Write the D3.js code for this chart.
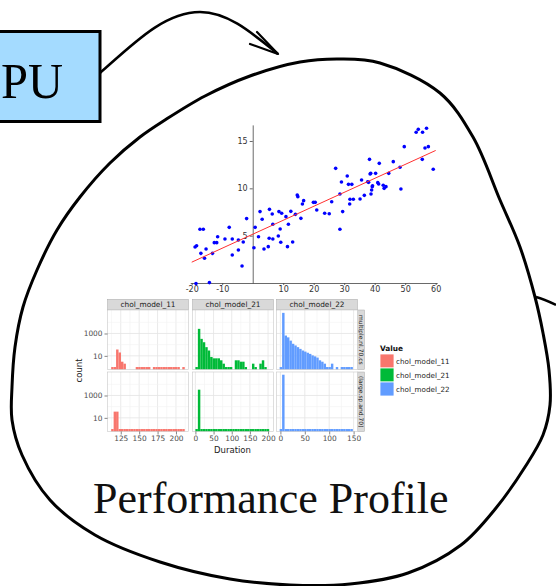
<!DOCTYPE html>
<html>
<head>
<meta charset="utf-8">
<script src="https://cdn.jsdelivr.net/npm/d3@7"></script>
<style>
  body { margin: 0; background: #fff; }
  svg { display: block; }
</style>
</head>
<body>
<svg id="fig" width="556" height="586"></svg>
<script>
// scatter
const scatterX = [-18.9, -18.4, -17.0, -17.3, -16.2, -15.8, -15.3, -13.2, -12.6, -11.8, -11.5, -9.1, -7.7, -6.7, -6.7,
  -4.7, -4.7, -3.5, -3.1, -2.0, 0.4, 0.8, 1.9, 2.4, 3.1, 3.7, 5.1, 5.4, 5.5, 6.4, 6.6, 6.6, 8.4, 8.6, 9.0, 9.2, 9.5,
  10.9, 11.4, 11.7, 12.5, 13.1, 14.0, 14.6, 14.8, 15.8, 16.3, 16.7, 19.9, 20.5, 21.0, 23.6, 25.1, 25.9, 27.2, 28.6,
  28.6, 29.1, 29.5, 31.0, 31.4, 31.8, 31.9, 32.5, 33.0, 35.2, 35.7, 36.6, 37.7, 38.0, 38.3, 38.5, 38.7, 38.8, 39.0,
  39.2, 39.3, 40.3, 41.0, 41.3, 41.5, 42.8, 43.1, 43.7, 44.6, 46.1, 48.3, 48.6, 49.7, 53.6, 54.3, 55.6, 55.7, 56.5,
  57.0, 57.6, 59.2, -18.6, -14.2];
const scatterY = [3.80, 3.94, 3.13, 5.67, 5.67, 2.61, 3.59, 3.13, 4.26, 4.26, 4.89, 4.65, 5.88, 4.65, 2.96,
  4.54, 3.49, 1.80, 4.33, 6.80, 3.73, 5.88, 4.89, 7.54, 6.73, 3.59, 3.84, 4.72, 7.78, 7.29, 4.65, 6.20, 4.96, 7.54, 5.70, 4.30, 7.36,
  7.01, 3.84, 6.20, 7.57, 4.33, 7.25, 9.30, 9.12, 6.83, 8.35, 8.70, 8.52, 8.52, 7.71, 7.36, 7.32, 8.59, 12.11, 5.67,
  9.40, 10.67, 7.54, 11.30, 10.42, 8.35, 8.84, 10.42, 8.84, 8.87, 10.88, 9.26, 10.70, 10.63, 13.06, 11.51, 11.58, 9.40, 9.82,
  10.18, 10.28, 11.58, 10.60, 10.46, 12.64, 10.32, 10.00, 10.18, 11.58, 12.82, 12.22, 9.93, 14.40, 15.92, 16.23, 13.06, 15.92, 14.26,
  16.34, 14.40, 12.01, -0.05, 0.04];
const fitX = [-20, 60];
const fitY = [2.2, 14.0];
const scatterXTicks = [-20, -10, 10, 20, 30, 40, 50, 60];
const scatterYTicks = [5, 10, 15];

// faceted histograms
const models = ["chol_model_11", "chol_model_21", "chol_model_22"];
const rowLabels = ["multiple.nl.70.cs", "(large.sp.and.70)"];
const modelColors = ["#F8766D", "#00BA38", "#619CFF"];
const binStart = [112, 0, -1.5];
const binWidth = [3.33, 6.77, 5];
const counts11Top = [1, 1, 37, 20, 3, 2, 0, 0, 0, 0, 1, 1, 1, 1, 1, 1, 0, 1, 1, 1, 1, 1, 1, 1, 1, 1, 1, 1, 0, 1];
const counts11Bot = [1, 36, 36, 1, 1, 1, 1, 1, 1, 1, 1, 1, 1, 1, 1, 1, 1, 1, 1, 1, 1, 1, 1, 1, 1, 1, 1, 1, 1, 1];
const counts21Top = [1, 2600, 330, 165, 60, 30, 8, 6, 6, 6, 4, 2, 1, 1, 1, 0, 4, 4, 3, 3, 1, 0, 0, 2, 1, 0, 2, 4, 1, 0];
const counts21Bot = [1, 3300, 1, 1, 1, 1, 1, 1, 1, 1, 1, 1, 1, 1, 1, 1, 1, 1, 1, 1, 1, 1, 1, 1, 1, 1, 1, 1, 1, 1];
const counts22Top = [1, 70000, 650, 450, 230, 120, 85, 60, 42, 30, 24, 19, 15, 11, 9, 7, 4, 3, 2, 1, 1, 2, 0, 1, 0, 1, 1, 1, 1, 1];
const counts22Bot = [1, 72000, 1, 1, 1, 1, 1, 1, 1, 1, 1, 1, 1, 1, 1, 1, 1, 1, 1, 1, 1, 1, 1, 1, 1, 1, 1, 1, 1, 1];
const histCounts = [[counts11Top, counts11Bot], [counts21Top, counts21Bot], [counts22Top, counts22Bot]];
const xDomains = [[107, 217], [-8, 215], [-8, 158]];
const xTicks = [[125, 150, 175, 200], [0, 50, 100, 150, 200], [0, 50, 100, 150]];
const yTicks = [10, 1000];
const yGrid = [10, 100, 1000, 10000];

const svg = d3.select("#fig");
const sans = "DejaVu Sans, sans-serif";
const plainNum = d => String(d); // hyphen minus, like the source

// ---- diagram outline ----
const blobPts = [[250, 76], [300, 62], [340, 59], [380, 63], [440, 93], [473, 137], [500, 200], [520, 247],
  [535, 297], [543, 333], [549, 370], [550, 405], [543, 435], [525, 467], [496, 508], [461, 545], [408, 573],
  [350, 584], [290, 585], [230, 579], [160, 562], [95, 535], [50, 500], [22, 455], [12, 420], [12, 387],
  [15, 347], [23, 307], [37, 270], [57, 230], [80, 197], [110, 163], [140, 137], [165, 120], [205, 96]];

svg.append("path")
  .attr("d", d3.line().curve(d3.curveCatmullRomClosed.alpha(0.5))(blobPts))
  .attr("fill", "none").attr("stroke", "#000").attr("stroke-width", 3);

svg.append("path")
  .attr("d", "M536,297 C544,299 550,302 556,305")
  .attr("fill", "none").attr("stroke", "#000").attr("stroke-width", 2.5);

// box on the left
svg.append("rect")
  .attr("x", -6).attr("y", 31.5).attr("width", 106).attr("height", 90)
  .attr("fill", "#a4dbff").attr("stroke", "#000").attr("stroke-width", 3);
svg.append("text")
  .attr("x", 1).attr("y", 98)
  .attr("font-family", "Liberation Serif, serif").attr("font-size", 50)
  .attr("textLength", 62).attr("lengthAdjust", "spacingAndGlyphs")
  .text("PU");

// arrow from box to outline
svg.append("path")
  .attr("d", "M100,73 C135,42 165,12 200,12 C228,12 252,33 278,54")
  .attr("fill", "none").attr("stroke", "#000").attr("stroke-width", 2.5);
svg.append("path")
  .attr("d", "M257,32 L278,54 L250,44")
  .attr("fill", "none").attr("stroke", "#000").attr("stroke-width", 2.2)
  .attr("stroke-linecap", "round").attr("stroke-linejoin", "round");

svg.append("text")
  .attr("x", 93).attr("y", 513)
  .attr("font-family", "Liberation Serif, serif").attr("font-size", 44)
  .attr("fill", "#111")
  .text("Performance Profile");

// ---- scatter with fit ----
const sx = d3.scaleLinear().domain([-20.5, 60.5]).range([190.2, 437.2]);
const sy = d3.scaleLinear().domain([0, 16.7]).range([283, 124.9]);

const yAx = svg.append("g")
  .attr("transform", `translate(${sx(0)},0)`)
  .call(d3.axisLeft(sy).tickValues(scatterYTicks).tickFormat(plainNum)
    .tickSize(3).tickSizeOuter(0).tickPadding(2));
const xAx = svg.append("g")
  .attr("transform", `translate(0,${sy(0)})`)
  .call(d3.axisBottom(sx).tickValues(scatterXTicks).tickFormat(plainNum)
    .tickSize(2).tickSizeOuter(0).tickPadding(1));
[xAx, yAx].forEach(g => {
  g.selectAll("path, line").attr("stroke", "#444").attr("stroke-width", 0.8);
  g.selectAll("text").attr("font-family", sans).attr("font-size", 8).attr("fill", "#333");
});

svg.append("g").selectAll("circle")
  .data(scatterX.map((x, i) => [x, scatterY[i]]))
  .join("circle")
  .attr("cx", d => sx(d[0])).attr("cy", d => sy(d[1]))
  .attr("r", 1.8).attr("fill", "#0000ff");

svg.append("path")
  .attr("d", d3.line().x(d => sx(d[0])).y(d => sy(d[1]))(fitX.map((x, i) => [x, fitY[i]])))
  .attr("stroke", "#ff3030").attr("stroke-width", 1).attr("fill", "none");

// ---- facet grid ----
const colLeft = [107.5, 192.5, 276.5];
const colW = 81;
const rowTop = [310, 372];
const rowH = 59.5;
const stripH = 10.7;

models.forEach((m, c) => {
  const x0 = colLeft[c];
  svg.append("rect")
    .attr("x", x0).attr("y", rowTop[0] - stripH).attr("width", colW).attr("height", stripH)
    .attr("fill", "#d9d9d9").attr("stroke", "#a8a8a8").attr("stroke-width", 0.5);
  svg.append("text")
    .attr("x", x0 + colW / 2).attr("y", rowTop[0] - stripH / 2).attr("dy", "0.35em")
    .attr("text-anchor", "middle").attr("font-family", sans).attr("font-size", 7.4).attr("fill", "#1a1a1a")
    .text(m);
});

rowLabels.forEach((lab, r) => {
  const sxr = colLeft[2] + colW;
  svg.append("rect")
    .attr("x", sxr).attr("y", rowTop[r]).attr("width", 7).attr("height", rowH)
    .attr("fill", "#d9d9d9").attr("stroke", "#a8a8a8").attr("stroke-width", 0.5);
  svg.append("text")
    .attr("transform", `translate(${sxr + 3.5},${rowTop[r] + rowH / 2}) rotate(90)`)
    .attr("dy", "0.35em").attr("text-anchor", "middle")
    .attr("font-family", sans).attr("font-size", 6).attr("fill", "#1a1a1a")
    .text(lab);
});

models.forEach((m, c) => {
  const x = d3.scaleLinear().domain(xDomains[c]).range([colLeft[c], colLeft[c] + colW]);
  const step = xTicks[c][1] - xTicks[c][0];
  const minor = d3.range(xTicks[c][0] - step / 2, xDomains[c][1], step)
    .filter(v => v > xDomains[c][0]);

  rowLabels.forEach((lab, r) => {
    const y = d3.scaleLog()
      .domain([Math.pow(10, -0.22), Math.pow(10, 5.1)])
      .range([rowTop[r] + rowH, rowTop[r]]);
    const g = svg.append("g");

    g.append("rect")
      .attr("x", colLeft[c]).attr("y", rowTop[r]).attr("width", colW).attr("height", rowH)
      .attr("fill", "#fff");

    g.selectAll("line.vmin").data(minor).join("line")
      .attr("x1", d => x(d)).attr("x2", d => x(d))
      .attr("y1", rowTop[r]).attr("y2", rowTop[r] + rowH)
      .attr("stroke", "#f2f2f2").attr("stroke-width", 0.6);
    g.selectAll("line.vmaj").data(xTicks[c]).join("line")
      .attr("x1", d => x(d)).attr("x2", d => x(d))
      .attr("y1", rowTop[r]).attr("y2", rowTop[r] + rowH)
      .attr("stroke", "#e5e5e5").attr("stroke-width", 0.8);
    g.selectAll("line.h").data(yGrid).join("line")
      .attr("x1", colLeft[c]).attr("x2", colLeft[c] + colW)
      .attr("y1", d => y(d)).attr("y2", d => y(d))
      .attr("stroke", d => yTicks.includes(d) ? "#e5e5e5" : "#f2f2f2")
      .attr("stroke-width", d => yTicks.includes(d) ? 0.8 : 0.6);

    const bins = histCounts[c][r]
      .map((n, i) => ({ a: binStart[c] + i * binWidth[c], b: binStart[c] + (i + 1) * binWidth[c], n: n }))
      .filter(d => d.n > 0);
    g.selectAll("rect.bar").data(bins).join("rect")
      .attr("x", d => x(d.a)).attr("width", d => x(d.b) - x(d.a))
      .attr("y", d => y(d.n)).attr("height", d => rowTop[r] + rowH - y(d.n))
      .attr("fill", modelColors[c]);

    g.append("rect")
      .attr("x", colLeft[c]).attr("y", rowTop[r]).attr("width", colW).attr("height", rowH)
      .attr("fill", "none").attr("stroke", "#c8c8c8").attr("stroke-width", 0.6);

    if (c === 0) {
      const ax = svg.append("g")
        .attr("transform", `translate(${colLeft[0]},0)`)
        .call(d3.axisLeft(y).tickValues(yTicks).tickFormat(d3.format("d")).tickSize(3).tickPadding(2));
      ax.select(".domain").remove();
      ax.selectAll("line").attr("stroke", "#333").attr("stroke-width", 0.6);
      ax.selectAll("text").attr("font-family", sans).attr("font-size", 7.4).attr("fill", "#4d4d4d");
    }
    if (r === 1) {
      const ax = svg.append("g")
        .attr("transform", `translate(0,${rowTop[1] + rowH})`)
        .call(d3.axisBottom(x).tickValues(xTicks[c]).tickSize(3).tickPadding(1.5));
      ax.select(".domain").remove();
      ax.selectAll("line").attr("stroke", "#333").attr("stroke-width", 0.6);
      ax.selectAll("text").attr("font-family", sans).attr("font-size", 7.4).attr("fill", "#4d4d4d");
    }
  });
});

svg.append("text")
  .attr("x", (colLeft[0] + colLeft[2] + colW) / 2).attr("y", 453)
  .attr("text-anchor", "middle").attr("font-family", sans).attr("font-size", 8.5).attr("fill", "#222")
  .text("Duration");
svg.append("text")
  .attr("transform", `translate(82,${rowTop[0] + rowH + 1}) rotate(-90)`)
  .attr("text-anchor", "middle").attr("font-family", sans).attr("font-size", 8.5).attr("fill", "#222")
  .text("count");

// legend
const lg = svg.append("g").attr("transform", "translate(380,354)");
lg.append("text")
  .attr("x", 0).attr("y", -3)
  .attr("font-family", sans).attr("font-size", 7.4).attr("font-weight", "bold").attr("fill", "#111")
  .text("Value");
models.forEach((m, i) => {
  lg.append("rect")
    .attr("x", 0).attr("y", i * 14).attr("width", 14).attr("height", 14)
    .attr("fill", modelColors[i]).attr("stroke", "#fff").attr("stroke-width", 0.8);
  lg.append("text")
    .attr("x", 16).attr("y", i * 14 + 7).attr("dy", "0.35em")
    .attr("font-family", sans).attr("font-size", 7.2).attr("fill", "#222")
    .text(m);
});
</script>
</body>
</html>
